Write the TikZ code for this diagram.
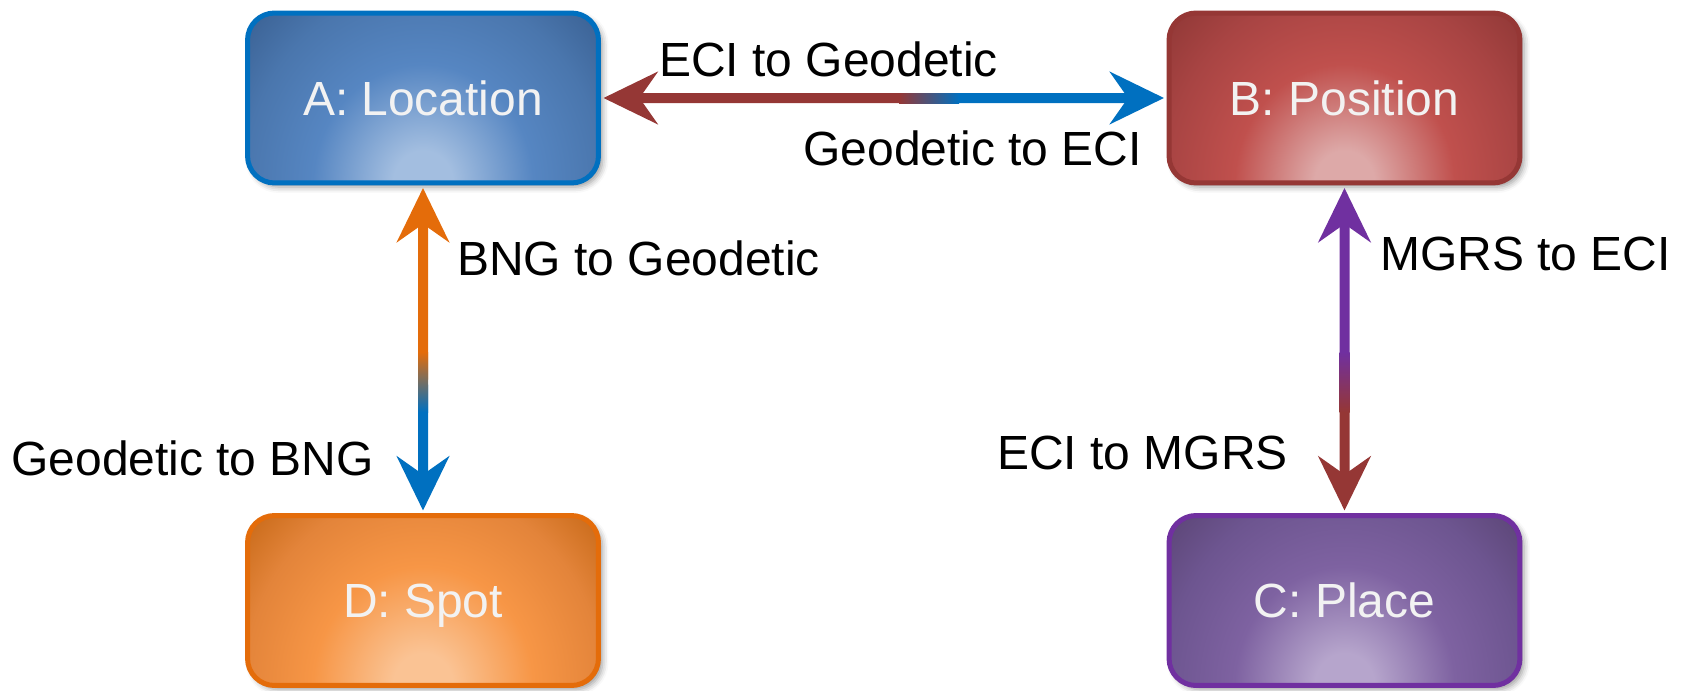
\documentclass[tikz,border=0pt]{standalone}
\usepackage{fontspec}
\setmainfont{Liberation Sans}
\usetikzlibrary{arrows.meta,calc,shadows.blur}

% line and border colours
\definecolor{cBlue}{HTML}{0070C0}
\definecolor{cRed}{HTML}{953735}
\definecolor{cOrange}{HTML}{E46C0A}
\definecolor{cPurple}{HTML}{7030A0}
\definecolor{boxText}{HTML}{F2F2F2}

% glow colours of the four boxes
\definecolor{aLight}{HTML}{A3BEE0}
\definecolor{aMid}{HTML}{5686C2}
\definecolor{aMidDark}{HTML}{4A76AD}
\definecolor{aDark}{HTML}{365B8C}

\definecolor{bLight}{HTML}{DDA9A8}
\definecolor{bMid}{HTML}{C0504D}
\definecolor{bMidDark}{HTML}{A84443}
\definecolor{bDark}{HTML}{8A3533}

\definecolor{cLight}{HTML}{B6A5CC}
\definecolor{cMid}{HTML}{7E62A1}
\definecolor{cMidDark}{HTML}{6D5590}
\definecolor{cDark}{HTML}{57416F}

\definecolor{dLight}{HTML}{FAC394}
\definecolor{dMid}{HTML}{F79646}
\definecolor{dMidDark}{HTML}{E3843A}
\definecolor{dDark}{HTML}{C0620F}

\pgfdeclareradialshading{glowA}{\pgfpoint{0bp}{0bp}}{color(0bp)=(aLight); color(3bp)=(aLight); color(11bp)=(aMid); color(18bp)=(aMidDark); color(25bp)=(aDark); color(50bp)=(aDark)}
\pgfdeclareradialshading{glowB}{\pgfpoint{0bp}{0bp}}{color(0bp)=(bLight); color(3bp)=(bLight); color(11bp)=(bMid); color(18bp)=(bMidDark); color(25bp)=(bDark); color(50bp)=(bDark)}
\pgfdeclareradialshading{glowC}{\pgfpoint{0bp}{0bp}}{color(0bp)=(cLight); color(3bp)=(cLight); color(11bp)=(cMid); color(18bp)=(cMidDark); color(25bp)=(cDark); color(50bp)=(cDark)}
\pgfdeclareradialshading{glowD}{\pgfpoint{0bp}{0bp}}{color(0bp)=(dLight); color(3bp)=(dLight); color(11bp)=(dMid); color(18bp)=(dMidDark); color(25bp)=(dDark); color(50bp)=(dDark)}

\tikzset{
  box/.style={draw, line width=0.1cm, rounded corners=0.54cm,
    minimum width=7.02cm, minimum height=3.4cm, inner sep=0pt,
    text=boxText, font=\fontsize{27.3}{32}\selectfont,
    text height=19.5pt, text depth=0pt,
    blur shadow={shadow xshift=0.08cm, shadow yshift=-0.08cm,
      shadow blur radius=0.12cm, shadow opacity=40}},
  glow/.style={path picture={\shade[shading=#1]
      (path picture bounding box.south) ellipse (5cm and 5.4cm);}},
  lbl/.style={inner sep=0pt, anchor=base west, text=black,
    font=\fontsize{27.3}{32}\selectfont},
  link/.style={line width=0.2cm, shorten <=0.05cm, shorten >=0.05cm},
  tip/.tip={Stealth[length=1.08cm, width=1.04cm, inset=0.36cm]},
}

\begin{document}
\begin{tikzpicture}[x=0.02cm, y=-0.02cm]
\useasboundingbox (0,0) rectangle (1683,690);

% boxes
\node[box, draw=cBlue, glow=glowA] (A) at (423,98) {A: Location};
\node[box, draw=cRed, glow=glowB] (B) at (1344.5,98) {B: Position};
\node[box, draw=cPurple, glow=glowC] (C) at (1344.5,600.5) {C: Place};
\node[box, draw=cOrange, glow=glowD] (D) at (423,600.5) {D: Spot};

% colour change points on the links
\coordinate (ab) at ($(A.east)!0.58!(B.west)$);
\coordinate (ad) at ($(A.south)!0.6!(D.north)$);
\coordinate (bc) at ($(B.south)!0.6!(C.north)$);

% A <-> B
\draw[link, cRed, {tip}-] (A.east) -- (ab);
\draw[link, cBlue, -{tip}] (ab) -- (B.west);
\shade[left color=cRed, right color=cBlue] ($(ab)+(-30,-5)$) rectangle ($(ab)+(30,5)$);

% A <-> D
\draw[link, cOrange, {tip}-] (A.south) -- (ad);
\draw[link, cBlue, -{tip}] (ad) -- (D.north);
\shade[top color=cOrange, bottom color=cBlue] ($(ad)+(-5,-30)$) rectangle ($(ad)+(5,30)$);

% B <-> C
\draw[link, cPurple, {tip}-] (B.south) -- (bc);
\draw[link, cRed, -{tip}] (bc) -- (C.north);
\shade[top color=cPurple, bottom color=cRed] ($(bc)+(-5,-30)$) rectangle ($(bc)+(5,30)$);

% link labels
\node[lbl] (lab1) at (659,76) {ECI to Geodetic};
\node[lbl] (lab2) at (803,165) {Geodetic to ECI};
\node[lbl] (lab3) at (457,275) {BNG to Geodetic};
\node[lbl] (lab4) at (11,475) {Geodetic to BNG};
\node[lbl] (lab5) at (1380,270) {MGRS to ECI};
\node[lbl] (lab6) at (997,469) {ECI to MGRS};
\end{tikzpicture}
\end{document}
